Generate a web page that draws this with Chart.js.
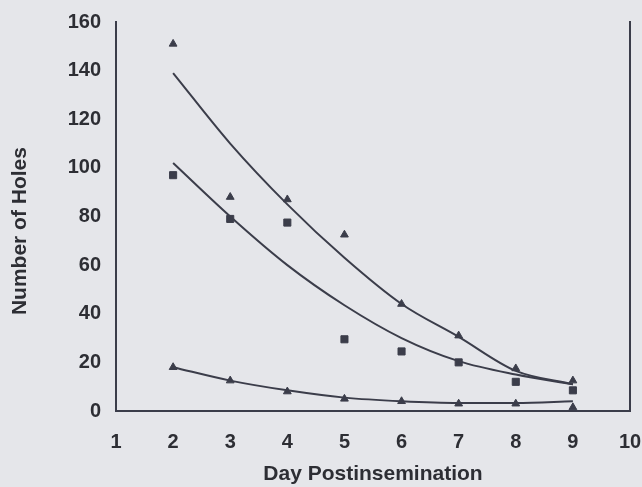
<!DOCTYPE html>
<html>
<head>
<meta charset="utf-8">
<script src="https://cdn.jsdelivr.net/npm/chart.js@4.4.0/dist/chart.umd.min.js"></script>
<style>
  body { margin: 0; background: #e5e6ea; }
  #wrap { width: 642px; height: 487px; position: relative; }
</style>
</head>
<body>
<div id="wrap"><canvas id="holesChart"></canvas></div>
<script>
var days = [2, 3, 4, 5, 6, 7, 8, 9];
var yTicks = [0, 20, 40, 60, 80, 100, 120, 140, 160];

var upperObserved = [151, 88, 87, 72.5, 44, 31, 17.5, 12.5];
var upperFit = [139, 110, 85, 63, 44, 30.5, 16.5, 11];
var middleObserved = [97, 79, 77.5, 29.5, 24.5, 20, 12, 8.5];
var middleFit = [102, 80, 60, 43.5, 30, 20.5, 15, 11];
var lowerObserved = [18, 12.5, 8, 5, 4, 3, 3, 1.5];
var lowerFit = [18, 12.5, 8.5, 5.5, 4, 3.3, 3.3, 4];

var ink = '#3b3d4a';
var textInk = '#2d2e34';
var labelFont = { family: 'Liberation Sans, Arial, sans-serif', size: 20, weight: 'bold' };
var titleFont = { family: 'Liberation Sans, Arial, sans-serif', size: 21, weight: 'bold' };

function pts(values) {
    return values.map(function (v, i) { return { x: days[i], y: v }; });
}

function markers(values, style) {
    return {
        type: 'scatter',
        data: pts(values),
        showLine: false,
        pointStyle: style,
        pointRadius: style === 'rect' ? 5 : 4.5,
        backgroundColor: ink,
        borderColor: ink,
        borderWidth: 1
    };
}

function fitLine(values) {
    return {
        type: 'line',
        data: pts(values),
        showLine: true,
        pointRadius: 0,
        borderColor: ink,
        borderWidth: 2,
        cubicInterpolationMode: 'monotone',
        fill: false
    };
}

// hidden tick marks only reserve room between axis line and labels
function spacer(len) {
    return { display: true, drawOnChartArea: false, drawTicks: true, tickLength: len, color: 'rgba(0,0,0,0)' };
}

var ctx = document.getElementById('holesChart').getContext('2d');
var holesChart = new Chart(ctx, {
    type: 'scatter',
    data: {
        datasets: [
            fitLine(upperFit),
            fitLine(middleFit),
            fitLine(lowerFit),
            markers(upperObserved, 'triangle'),
            markers(middleObserved, 'rect'),
            markers(lowerObserved, 'triangle')
        ]
    },
    options: {
        responsive: true,
        maintainAspectRatio: false,
        animation: false,
        layout: { padding: { top: 22, right: 12, left: 0, bottom: 0 } },
        plugins: {
            legend: { display: false },
            tooltip: { enabled: false }
        },
        scales: {
            x: {
                type: 'linear',
                min: 1,
                max: 10,
                grid: spacer(19),
                border: { display: true, color: ink, width: 2 },
                ticks: { stepSize: 1, padding: 0, color: textInk, font: labelFont },
                title: {
                    display: true,
                    text: 'Day Postinsemination',
                    color: textInk,
                    padding: { top: 0, bottom: 0 },
                    font: titleFont
                },
                afterFit: function (scale) { scale.height = 76; }
            },
            y: {
                min: 0,
                max: 160,
                grid: spacer(15),
                border: { display: true, color: ink, width: 2 },
                afterBuildTicks: function (scale) {
                    scale.ticks = yTicks.map(function (v) { return { value: v }; });
                },
                ticks: { padding: 0, color: textInk, font: labelFont },
                title: {
                    display: true,
                    text: 'Number of Holes     ',
                    color: textInk,
                    padding: { top: 8, bottom: 0 },
                    font: titleFont
                },
                afterFit: function (scale) { scale.width = 116; }
            },
            yRight: {
                position: 'right',
                min: 0,
                max: 160,
                grid: { display: false, drawTicks: false },
                border: { display: true, color: ink, width: 2 },
                ticks: { display: false, padding: 0 },
                afterFit: function (scale) { scale.width = 0; }
            }
        }
    }
});
</script>
</body>
</html>
